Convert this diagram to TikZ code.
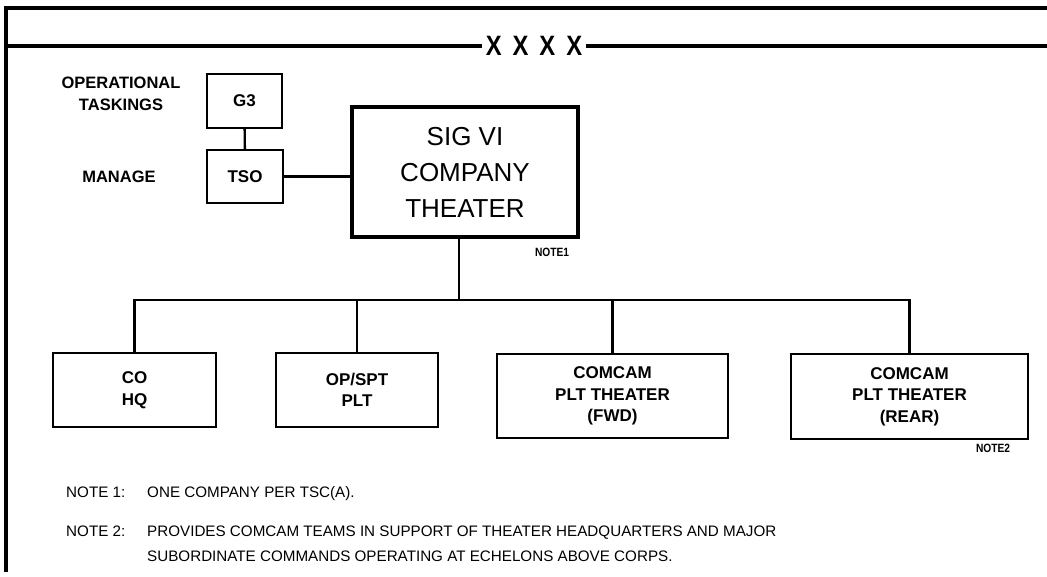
\documentclass[tikz,border=0pt]{standalone}
\usepackage{fontspec}
\setmainfont{Liberation Sans}
\newfontfamily\condfont[FakeStretch=0.85]{Liberation Sans}
\begin{document}
\begin{tikzpicture}[x=1pt,y=-1pt,
  frameline/.style={line width=3.2pt},
  conn/.style={line width=2.4pt},
  smallbox/.style={draw,line width=2.2pt,inner sep=0pt,align=center,font=\fontsize{17}{21}\selectfont\bfseries},
  unitbox/.style={draw,line width=2.2pt,inner sep=0pt,align=center,font=\fontsize{17}{21.5}\selectfont\bfseries},
  bigbox/.style={draw,line width=3.4pt,inner sep=0pt,align=center,font=\fontsize{26}{36}\selectfont},
  sidelabel/.style={align=center,inner sep=0pt,font=\fontsize{16.5}{22}\selectfont\bfseries},
  notelabel/.style={inner sep=0pt,font=\condfont\fontsize{12}{13}\selectfont\bfseries},
  notetext/.style={anchor=base west,inner sep=0pt,font=\fontsize{15.2}{17}\selectfont},
]
\useasboundingbox (0,0) rectangle (1047,576);

% frame
\coordinate (tl) at (6,8);
\coordinate (tr) at (1047,8);
\coordinate (bl) at (6,572);
\coordinate (ml) at (6,46);
\coordinate (mr) at (1047,46);
\draw[frameline] (tr) -- (tl) -- (bl);
\draw[frameline] (ml) -- (mr);
\node[fill=white,inner xsep=4pt,inner ysep=2pt,font=\condfont\fontsize{28}{30}\selectfont\bfseries] (xxxx) at (534,46)
  {X\hspace{11pt}X\hspace{11pt}X\hspace{11pt}X};

% upper part
\node[sidelabel] (optask) at (121,94) {OPERATIONAL\\TASKINGS};
\node[sidelabel] (manage) at (119,177) {MANAGE};
\node[smallbox,minimum width=75pt,minimum height=54pt] (g3) at (244.5,101) {G3};
\node[smallbox,minimum width=76pt,minimum height=53pt] (tso) at (245,176.5) {TSO};
\node[bigbox,minimum width=226pt,minimum height=130pt] (sig) at (465,172) {SIG VI\\COMPANY\\THEATER};
\node[notelabel] (note1lbl) at (552,252) {NOTE1};

\draw[conn] (g3) -- (tso);
\draw[conn] (tso.east) -- (tso.east -| sig.west);

% subordinate units
\node[unitbox,minimum width=163pt,minimum height=74pt] (cohq) at (134.5,390) {CO\\HQ};
\node[unitbox,minimum width=162pt,minimum height=74pt] (opspt) at (357,390) {OP/SPT\\PLT};
\node[unitbox,minimum width=231pt,minimum height=84pt] (fwd) at (612.5,396) {COMCAM\\PLT THEATER\\(FWD)};
\node[unitbox,minimum width=237pt,minimum height=85pt] (rear) at (909.5,396.5) {COMCAM\\PLT THEATER\\(REAR)};
\node[notelabel] (note2lbl) at (993,448) {NOTE2};

\coordinate (bus) at (459,300);
\draw[conn] (sig.south -| bus) -- (bus);
\draw[conn] (cohq.north) -- (cohq.north |- bus) -- (rear.north |- bus) -- (rear.north);
\draw[conn] (opspt.north) -- (opspt.north |- bus);
\draw[conn] (fwd.north) -- (fwd.north |- bus);

% notes
\node[notetext] (n1a) at (66,497) {NOTE 1:};
\node[notetext] (n1b) at (147,497) {ONE COMPANY PER TSC(A).};
\node[notetext] (n2a) at (66,536) {NOTE 2:};
\node[notetext] (n2b) at (147,536) {PROVIDES COMCAM TEAMS IN SUPPORT OF THEATER HEADQUARTERS AND MAJOR};
\node[notetext] (n2c) at (147,561) {SUBORDINATE COMMANDS OPERATING AT ECHELONS ABOVE CORPS.};
\end{tikzpicture}
\end{document}
